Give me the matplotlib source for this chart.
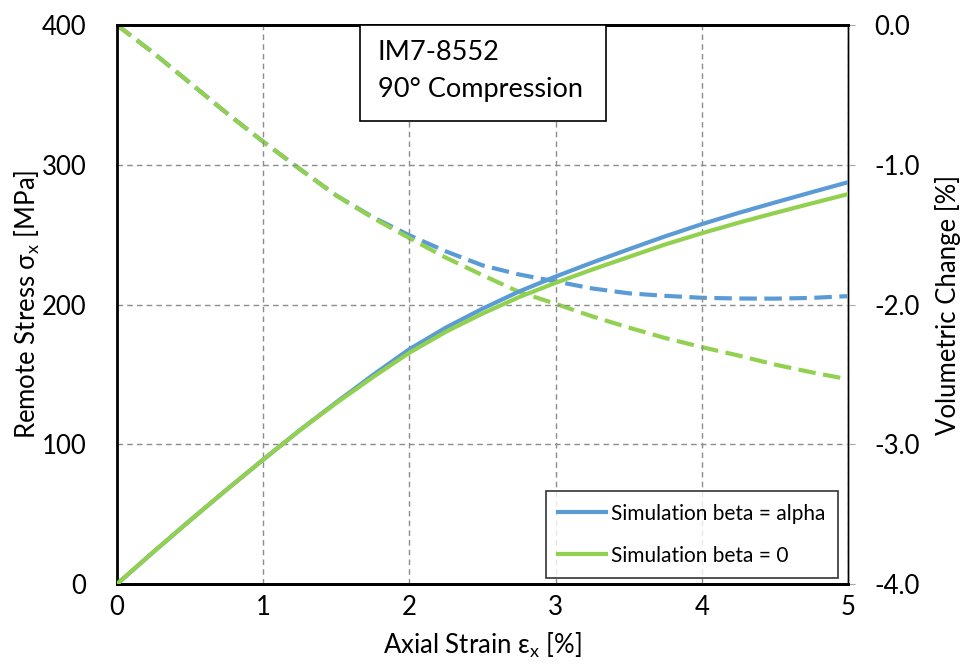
import matplotlib.pyplot as plt
from matplotlib.patches import Rectangle

plt.rcParams['font.family'] = ['Lato', 'DejaVu Sans']

# Data
strain = [0, 0.25, 0.5, 0.75, 1.0, 1.25, 1.5, 1.75, 2.0, 2.25, 2.5,
          2.75, 3.0, 3.25, 3.5, 3.75, 4.0, 4.25, 4.5, 4.75, 5.0]
stress_alpha = [0, 23, 45.5, 67.5, 89, 110, 130, 149.5, 168, 183.5, 197,
                209.3, 220, 230, 239.5, 248.8, 257.5, 265.5, 273, 280.3, 287.5]
stress_zero = [0, 23, 45.5, 67.5, 89, 110, 129.5, 148, 165.5, 180.5, 193.5,
               205.3, 215.5, 225, 234, 243, 251, 258.5, 265.5, 272.3, 279]
vol_alpha = [0, -0.20, -0.415, -0.63, -0.835, -1.03, -1.22, -1.375, -1.505, -1.62, -1.72,
             -1.785, -1.835, -1.885, -1.92, -1.938, -1.952, -1.957, -1.958, -1.953, -1.94]
vol_zero = [0, -0.20, -0.415, -0.63, -0.835, -1.03, -1.22, -1.38, -1.525, -1.665, -1.79,
            -1.91, -1.995, -2.085, -2.165, -2.24, -2.305, -2.365, -2.43, -2.485, -2.535]

blue = '#5B9BD5'
green = '#92D050'

fig = plt.figure(figsize=(9.65, 6.65), dpi=100)
ax = fig.add_axes([0.1212, 0.1218, 0.7576, 0.8406])
ax2 = ax.twinx()

# Stress curves (left axis)
ax.plot(strain, stress_alpha, color=blue, lw=3, label='Simulation beta = alpha', zorder=3)
ax.plot(strain, stress_zero, color=green, lw=3, label='Simulation beta = 0', zorder=4)

# Volumetric change (right axis)
ax2.plot(strain, vol_alpha, color=blue, lw=3, dashes=(4.2, 1.8))
ax2.plot(strain, vol_zero, color=green, lw=3, dashes=(4.2, 1.8))

ax.set_xlim(0, 5)
ax.set_ylim(0, 400)
ax2.set_ylim(-4.0, 0.0)
ax.set_xticks([0, 1, 2, 3, 4, 5])
ax.set_yticks([0, 100, 200, 300, 400])
ax2.set_yticks([-4.0, -3.0, -2.0, -1.0, 0.0])
ax2.set_yticklabels(['-4.0', '-3.0', '-2.0', '-1.0', '0.0'])

ax.grid(True, color='#8c8c8c', linestyle=(0, (4, 3)), linewidth=1)
ax.set_axisbelow(True)

ax.tick_params(axis='x', length=0, labelsize=18.5, pad=8, colors='black')
ax.tick_params(axis='y', length=0, labelsize=18.5, pad=22, colors='black')
ax2.tick_params(axis='y', length=5, color='#a6a6a6', labelsize=18.5, pad=14)

for s in ['left', 'bottom', 'top']:
    ax.spines[s].set_color('black')
    ax.spines[s].set_linewidth(2)
ax2.spines['right'].set_color('#a6a6a6')
ax2.spines['right'].set_linewidth(2)
ax2.spines['left'].set_visible(False)
ax2.spines['top'].set_color('black')
ax2.spines['top'].set_linewidth(2)
ax2.spines['bottom'].set_color('black')
ax2.spines['bottom'].set_linewidth(2)

ax.set_xlabel(r'Axial Strain $\mathregular{\varepsilon_x}$ [%]', fontsize=18.5, labelpad=8)
ax.set_ylabel(r'Remote Stress $\mathregular{\sigma_x}$ [MPa]', fontsize=18.5, labelpad=0)
ax2.set_ylabel('Volumetric Change [%]', fontsize=18.5, labelpad=11)

leg = ax.legend(loc='lower right', bbox_to_anchor=(0.9863, 0.0107), borderaxespad=0,
                fontsize=15, frameon=True, fancybox=False, edgecolor='black',
                handlelength=2.3, handletextpad=0.25, labelspacing=1.05, borderpad=0.6)
leg.get_frame().set_linewidth(1.2)
leg.set_zorder(10)

# Title box
ax.add_patch(Rectangle((0.3324, 0.828), 0.3366, 0.172, transform=ax.transAxes,
                       facecolor='white', edgecolor='black', linewidth=1.2, zorder=9,
                       clip_on=False))
ax.text(0.357, 0.95, 'IM7-8552', transform=ax.transAxes, fontsize=19.5,
        ha='left', va='center', zorder=10)
ax.text(0.357, 0.884, '90° Compression', transform=ax.transAxes, fontsize=19.5,
        ha='left', va='center', zorder=10)

ax.set_zorder(ax2.get_zorder() + 1)
ax.patch.set_visible(False)

fig.savefig('out.png', dpi=100)
